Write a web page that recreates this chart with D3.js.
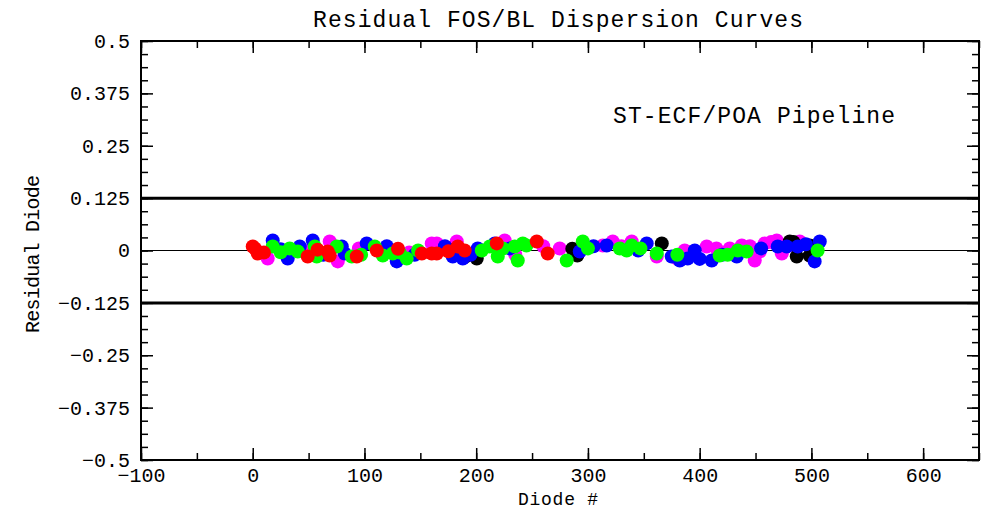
<!DOCTYPE html>
<html>
<head>
<meta charset="utf-8">
<script src="https://cdn.jsdelivr.net/npm/d3@7"></script>
<style>
  body { margin: 0; background: #fff; }
  svg text { font-family: "Liberation Mono", "DejaVu Sans Mono", monospace; fill: #000; }
</style>
</head>
<body>
<div id="plot"></div>
<script>
// tick values and labels
var xTicks = [-100, 0, 100, 200, 300, 400, 500, 600];
var xTickLabels = ["\u2212100", "0", "100", "200", "300", "400", "500", "600"];
var yTicks = [-0.5, -0.375, -0.25, -0.125, 0, 0.125, 0.25, 0.375, 0.5];
var yTickLabels = ["\u22120.5", "\u22120.375", "\u22120.25", "\u22120.125", "0", "0.125", "0.25", "0.375", "0.5"];
var limitLines = [0.125, -0.125];

// residuals per dataset: [diode, residual]
var magentaPts = [[13.4,-0.019],[35,0.0],[51,0.0],[68.9,0.0215],[76.1,-0.026],[95,0.005],[140,-0.005],
  [160.2,0.017],[164.7,0.017],[182.6,0.0215],[225.5,0.024],[235,-0.01],[260,0.01],[274.8,0.0048],
  [313.3,0.012],[322.2,0.0215],[330,0.01],[339.2,0.0215],[361.6,-0.0143],[380,-0.02],[386.6,0.0],
  [391,-0.005],[406.3,0.0096],[415,0.005],[426.9,0.0048],[437.7,0.012],[445,0.01],[449.3,-0.024],
  [453.8,-0.0024],[458.2,0.017],[464,0.02],[469,0.024],[473.5,-0.0072],[478,0.01],[489.6,0.0215],
  [500.3,-0.0143]];
var blackPts = [[173.6,0.0048],[190,-0.015],[200.5,-0.019],[286,0.004],[288.2,-0.0072],[290.5,-0.012],
  [366.1,0.017],[480.6,0.0215],[484,0.02],[486.9,-0.0143],[498.5,0.012],[498.5,-0.012]];
var bluePts = [[17.9,0.024],[25,0.003],[31.3,-0.019],[42.1,0.0096],[53.7,0.024],[63,-0.01],[79.7,0.0096],
  [82.3,-0.0072],[102,0.017],[120,0.01],[128.9,-0.026],[145,-0.01],[172,0.01],[179,-0.0143],[188,-0.019],
  [195,-0.01],[201.4,0.0048],[216.6,0.017],[230,0.005],[292.7,-0.0024],[305,0.01],[316.8,0.012],
  [345,0.0],[352.6,0.017],[375,-0.0143],[382.2,-0.024],[389.3,-0.019],[395.6,0.0],[400,-0.02],
  [410.8,-0.024],[420,-0.01],[433.2,-0.0143],[455,0.005],[469.9,0.0096],[477.9,0.0096],[487.8,0.0096],
  [495,0.015],[502.9,-0.026],[507.5,0.0215]];
var greenPts = [[17.9,0.0096],[25,-0.004],[33.1,0.0048],[40.3,-0.0024],[55.5,0.0096],[57.3,-0.0143],
  [75.2,0.0096],[88.6,-0.0143],[97,-0.01],[109.2,0.0096],[116.4,-0.012],[125.3,-0.0072],[131.6,-0.005],
  [137.8,-0.019],[148,0.0],[205,0.0],[212.1,0.0096],[219.3,-0.0143],[223.8,0.0048],[234.5,0.0096],
  [237.2,-0.024],[241.7,0.017],[245,0.012],[281,-0.024],[295.4,0.0215],[300,0.005],[328.5,0.0048],
  [334.7,0.0],[339.2,0.012],[347,0.005],[361.6,-0.0072],[380,-0.01],[417.9,-0.012],[425,-0.01],
  [434.1,0.0],[442.1,-0.0024],[505.6,0.0]];
var redPts = [[0,0.0096],[2,0.005],[4.5,-0.0072],[10,-0.005],[49.2,-0.0143],[58,0.002],[67.1,-0.0024],
  [68.9,-0.012],[93.1,-0.0143],[111,0.0],[130,0.004],[151.3,-0.0072],[160.2,-0.0072],[164.7,-0.0072],
  [175,-0.002],[183.5,0.0096],[189.7,0.0],[218.4,0.017],[254.2,0.0215],[264,-0.0072]];

var series = [
  { color: "#ff00ff", pts: magentaPts },
  { color: "#000000", pts: blackPts },
  { color: "#0000ff", pts: bluePts },
  { color: "#00ff00", pts: greenPts },
  { color: "#ff0000", pts: redPts }
];

var W = 987, H = 510;
var pLeft = 141, pRight = 979, pTop = 41, pBottom = 460;

var svg = d3.select("#plot").append("svg")
    .attr("width", W)
    .attr("height", H);

var x = d3.scaleLinear().domain([-100, 650]).range([pLeft, pRight]);
var y = d3.scaleLinear().domain([-0.5, 0.5]).range([pBottom, pTop]);

var xMinor = d3.range(-100, 651, 50);
var yMinor = d3.range(-0.5, 0.5001, 0.03125);

function styleAxis(g) {
    g.select(".domain").remove();
    g.selectAll("line").attr("stroke", "#000").attr("stroke-width", 1.5);
    g.selectAll("text").style("font-size", "20px").attr("fill", "#000");
}

// minor ticks on all four sides
svg.append("g").attr("transform", `translate(0,${pBottom})`)
    .call(d3.axisBottom(x).tickValues(xMinor).tickSize(-7).tickFormat(""))
    .call(styleAxis);
svg.append("g").attr("transform", `translate(0,${pTop})`)
    .call(d3.axisTop(x).tickValues(xMinor).tickSize(-7).tickFormat(""))
    .call(styleAxis);
svg.append("g").attr("transform", `translate(${pLeft},0)`)
    .call(d3.axisLeft(y).tickValues(yMinor).tickSize(-7).tickFormat(""))
    .call(styleAxis);
svg.append("g").attr("transform", `translate(${pRight},0)`)
    .call(d3.axisRight(y).tickValues(yMinor).tickSize(-7).tickFormat(""))
    .call(styleAxis);

// major ticks + labels
svg.append("g").attr("transform", `translate(0,${pBottom})`)
    .call(d3.axisBottom(x).tickValues(xTicks).tickSize(-12).tickPadding(8)
        .tickFormat((d, i) => xTickLabels[i]))
    .call(styleAxis);
svg.append("g").attr("transform", `translate(0,${pTop})`)
    .call(d3.axisTop(x).tickValues(xTicks).tickSize(-12).tickFormat(""))
    .call(styleAxis);
svg.append("g").attr("transform", `translate(${pLeft},0)`)
    .call(d3.axisLeft(y).tickValues(yTicks).tickSize(-12).tickPadding(11)
        .tickFormat((d, i) => yTickLabels[i]))
    .call(styleAxis);
svg.append("g").attr("transform", `translate(${pRight},0)`)
    .call(d3.axisRight(y).tickValues(yTicks).tickSize(-12).tickFormat(""))
    .call(styleAxis);

// frame
svg.append("rect")
    .attr("x", pLeft).attr("y", pTop)
    .attr("width", pRight - pLeft).attr("height", pBottom - pTop)
    .attr("fill", "none").attr("stroke", "#000").attr("stroke-width", 2);

// zero line
svg.append("line")
    .attr("x1", pLeft).attr("x2", pRight)
    .attr("y1", y(0)).attr("y2", y(0))
    .attr("stroke", "#000").attr("stroke-width", 1.2);

// +-0.125 limits
svg.selectAll(".limit").data(limitLines).enter().append("line")
    .attr("class", "limit")
    .attr("x1", pLeft).attr("x2", pRight)
    .attr("y1", d => y(d)).attr("y2", d => y(d))
    .attr("stroke", "#000").attr("stroke-width", 3);

// points
series.forEach(function(s) {
    svg.append("g").selectAll("circle").data(s.pts).enter().append("circle")
        .attr("cx", d => x(d[0]))
        .attr("cy", d => y(d[1]))
        .attr("r", 7)
        .attr("fill", s.color);
});

// title and labels
svg.append("text")
    .attr("x", 558).attr("y", 27)
    .attr("text-anchor", "middle")
    .style("font-size", "23px")
    .attr("textLength", 490).attr("lengthAdjust", "spacing")
    .text("Residual FOS/BL Dispersion Curves");

svg.append("text")
    .attr("x", 613).attr("y", 123)
    .style("font-size", "23px")
    .attr("textLength", 282).attr("lengthAdjust", "spacing")
    .text("ST-ECF/POA Pipeline");

svg.append("text")
    .attr("x", 558).attr("y", 505)
    .attr("text-anchor", "middle")
    .style("font-size", "18px")
    .attr("textLength", 80).attr("lengthAdjust", "spacing")
    .text("Diode #");

svg.append("text")
    .attr("transform", "translate(39,254) rotate(-90)")
    .attr("text-anchor", "middle")
    .style("font-size", "20px")
    .attr("textLength", 158).attr("lengthAdjust", "spacing")
    .text("Residual Diode");
</script>
</body>
</html>
